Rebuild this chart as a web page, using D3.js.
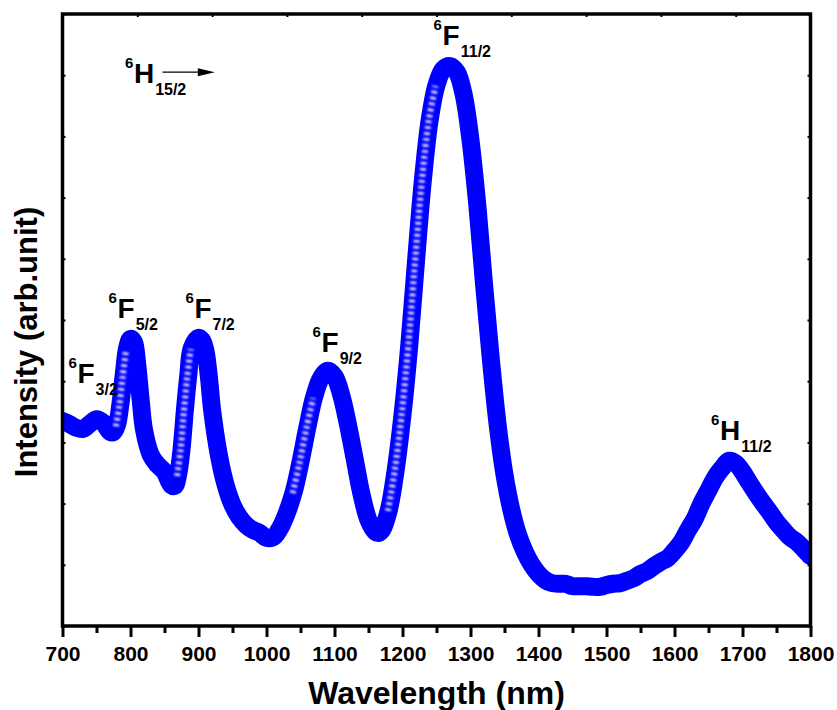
<!DOCTYPE html>
<html>
<head>
<meta charset="utf-8">
<script src="https://cdn.jsdelivr.net/npm/d3@7"></script>
<style>
  body { margin: 0; background: #fff; }
  text { font-family: "Liberation Sans", Arial, sans-serif; font-weight: bold; fill: #000; }
</style>
</head>
<body>
<svg id="chart" width="837" height="710"></svg>
<script>
// wavelength (nm) and intensity (arb. unit)
const wavelength = [
  700, 710, 720, 730, 740, 750, 760, 770, 775, 780,
  785, 790, 795, 800, 805, 810, 815, 820, 830, 840,
  850, 860, 865, 870, 875, 880, 885, 890, 900, 905,
  910, 915, 920, 930, 940, 950, 960, 970, 980, 990,
  1000, 1010, 1020, 1030, 1040, 1050, 1060, 1070, 1080, 1090,
  1100, 1110, 1120, 1130, 1140, 1150, 1160, 1165, 1170, 1180,
  1190, 1200, 1210, 1220, 1230, 1240, 1250, 1260, 1270, 1280,
  1290, 1300, 1310, 1320, 1330, 1340, 1350, 1360, 1370, 1380,
  1390, 1400, 1410, 1420, 1430, 1440, 1450, 1460, 1470, 1480,
  1490, 1500, 1510, 1520, 1530, 1540, 1550, 1560, 1570, 1580,
  1590, 1600, 1610, 1620, 1630, 1640, 1650, 1660, 1670, 1680,
  1690, 1700, 1710, 1720, 1730, 1740, 1750, 1760, 1770, 1780,
  1790, 1800
];
const intensity = [
  335, 330, 324, 322, 330, 338, 332, 317, 317, 328,
  361, 410, 454, 469, 464, 426, 369, 320, 279, 263,
  252, 230, 229, 247, 288, 353, 410, 454, 471, 467,
  451, 410, 353, 279, 230, 198, 178, 165, 157, 152,
  144, 145, 160, 185, 219, 268, 324, 374, 405, 417,
  408, 377, 328, 271, 214, 173, 154, 152, 157, 190,
  255, 345, 459, 598, 729, 827, 884, 910, 915, 905,
  868, 794, 688, 557, 435, 328, 247, 190, 149, 121,
  100, 85, 75, 70, 69, 69, 65, 65, 65, 64,
  64, 67, 69, 70, 74, 78, 85, 90, 98, 105,
  111, 123, 137, 157, 176, 201, 222, 243, 258, 270,
  266, 252, 234, 217, 201, 186, 170, 157, 145, 137,
  126, 114
];

const xTicks = d3.range(700, 1801, 100);
const xMinorTicks = d3.range(750, 1800, 100);

// transition labels: letter, subscript, anchor (wavelength, intensity) of letter baseline
const labelMain = ["H", "F", "F", "F", "F", "F", "H"];
const labelSub = ["15/2", "3/2", "5/2", "7/2", "9/2", "11/2", "11/2"];
const labelWl = [805, 722, 781, 894, 1081, 1259, 1667];
const labelInt = [887, 397, 503, 503, 448, 949, 304];

const svg = d3.select("#chart");
const plotL = 62.5, plotR = 810.5, plotT = 14, plotB = 626;

const x = d3.scaleLinear().domain([700, 1800]).range([plotL, plotR]);
const y = d3.scaleLinear().domain([0, 1000]).range([plotB, plotT]);

// clip the thick trace to the frame
svg.append("clipPath").attr("id", "plotclip")
  .append("rect")
  .attr("x", plotL).attr("y", plotT)
  .attr("width", plotR - plotL).attr("height", plotB - plotT);

const line = d3.line()
  .x((d, i) => x(wavelength[i]))
  .y((d, i) => y(intensity[i]))
  .curve(d3.curveCatmullRom.alpha(0.5));

const trace = svg.append("g").attr("clip-path", "url(#plotclip)");

trace.append("path")
  .datum(intensity)
  .attr("d", line)
  .attr("fill", "none")
  .attr("stroke", "#0000ff")
  .attr("stroke-width", 18)
  .attr("stroke-linecap", "round")
  .attr("stroke-linejoin", "round");

// the dense markers show their shading only on steep rising flanks
function steepUp(i) {
  const s = j => (intensity[j + 1] - intensity[j]) / (wavelength[j + 1] - wavelength[j]);
  return (i < intensity.length - 1 && s(i) > 4) || (i > 0 && s(i - 1) > 4);
}
svg.append("filter").attr("id", "soft")
  .append("feGaussianBlur").attr("stdDeviation", 0.9);

trace.append("path")
  .datum(intensity)
  .attr("d", line.defined((d, i) => steepUp(i)))
  .attr("fill", "none")
  .attr("stroke", "#eeeeff")
  .attr("stroke-width", 6)
  .attr("stroke-dasharray", "2.5 3.5")
  .attr("transform", "translate(-1,1)")
  .attr("filter", "url(#soft)");

// bottom axis, major + minor
const xAxis = svg.append("g")
  .attr("transform", `translate(0,${plotB})`)
  .call(d3.axisBottom(x).tickValues(xTicks).tickSize(11).tickPadding(9).tickFormat(d3.format("d")));
xAxis.select(".domain").remove();
xAxis.selectAll(".tick line").attr("stroke-width", 3);
xAxis.selectAll(".tick text").style("font-size", "21px");

const xMinor = svg.append("g")
  .attr("transform", `translate(0,${plotB})`)
  .call(d3.axisBottom(x).tickValues(xMinorTicks).tickSize(7).tickFormat(""));
xMinor.select(".domain").remove();
xMinor.selectAll(".tick line").attr("stroke-width", 3);

// small inward ticks on the other three sides
const topScale = d3.scaleLinear().domain([0, 10]).range([plotL, plotR]);
const tAxis = svg.append("g").attr("transform", `translate(0,${plotT})`)
  .call(d3.axisTop(topScale).ticks(10).tickSize(-3).tickFormat(""));
const lAxis = svg.append("g").attr("transform", `translate(${plotL},0)`)
  .call(d3.axisLeft(y).ticks(10).tickSize(-3).tickFormat(""));
const rAxis = svg.append("g").attr("transform", `translate(${plotR},0)`)
  .call(d3.axisRight(y).ticks(10).tickSize(-3).tickFormat(""));
[tAxis, lAxis, rAxis].forEach(a => {
  a.select(".domain").remove();
  a.selectAll(".tick line").attr("stroke-width", 2);
});

// frame
svg.append("rect")
  .attr("x", plotL).attr("y", plotT)
  .attr("width", plotR - plotL).attr("height", plotB - plotT)
  .attr("fill", "none").attr("stroke", "#000").attr("stroke-width", 3.5);

// axis titles
svg.append("text")
  .attr("x", (plotL + plotR) / 2).attr("y", 704)
  .attr("text-anchor", "middle")
  .style("font-size", "32px")
  .text("Wavelength (nm)");

svg.append("text")
  .attr("transform", "translate(37,342) rotate(-90)")
  .attr("text-anchor", "middle")
  .style("font-size", "31px")
  .text("Intensity (arb.unit)");

// term symbols
labelMain.forEach((m, i) => {
  const bx = x(labelWl[i]), by = y(labelInt[i]);
  svg.append("text").attr("x", bx - 9).attr("y", by - 15)
    .style("font-size", "15px").text("6");
  const t = svg.append("text").attr("x", bx).attr("y", by)
    .style("font-size", "28px").text(m);
  const w = t.node().getComputedTextLength();
  svg.append("text").attr("x", bx + w + 1).attr("y", by + 12)
    .style("font-size", "16px").text(labelSub[i]);
});

// arrow after 6H15/2
const ax0 = x(847), ax1 = x(924), ay = y(905);
svg.append("line")
  .attr("x1", ax0).attr("x2", ax1 - 14).attr("y1", ay).attr("y2", ay)
  .attr("stroke", "#000").attr("stroke-width", 1.3);
svg.append("path")
  .attr("d", `M${ax1},${ay} L${ax1 - 17},${ay - 4} L${ax1 - 17},${ay + 4} Z`)
  .attr("fill", "#000");
</script>
</body>
</html>
